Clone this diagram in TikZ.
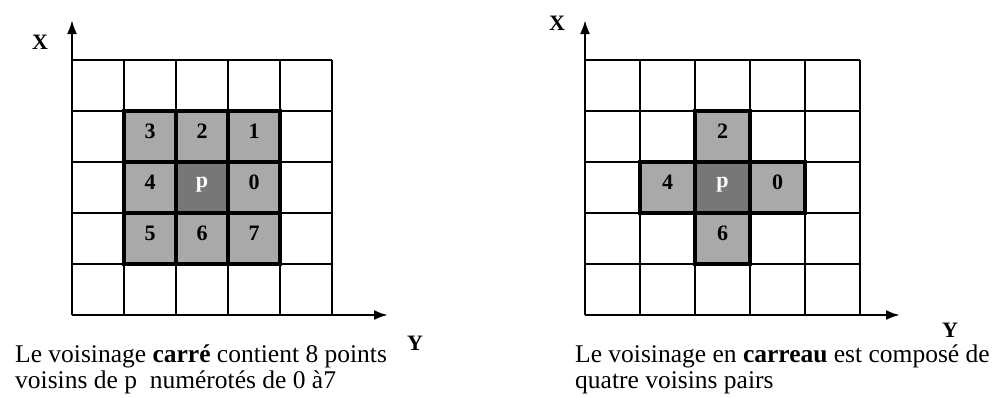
\documentclass[tikz,border=0pt]{standalone}
\usepackage{fontspec}
\setmainfont{Liberation Serif}
\usetikzlibrary{arrows.meta, positioning}
\definecolor{nbgray}{HTML}{A9A9A9}
\definecolor{pgray}{HTML}{777777}

\begin{document}
\begin{tikzpicture}[
    x=1pt, y=-1pt,
    gridline/.style={line width=1.4pt},
    axis/.style={line width=2.4pt, -{Latex[length=14pt, width=10pt]}},
    nb/.style={draw, line width=3.4pt, fill=nbgray, inner sep=0pt,
               minimum height=51pt, text depth=11pt,
               font=\fontsize{22}{22}\selectfont\bfseries},
    ctr/.style={nb, fill=pgray, text=white},
    alab/.style={font=\fontsize{22}{22}\selectfont\bfseries},
    captext/.style={anchor=base west, inner sep=0pt,
                font=\fontsize{25.5}{25.5}\selectfont}
  ]
  \useasboundingbox (0,0) rectangle (1004,397);

  % Left grid (square neighbourhood)
  \foreach \i in {0,...,5} {
    \draw[gridline] ({72+52*\i},60) -- ({72+52*\i},315);
    \draw[gridline] (72,{60+51*\i}) -- (332,{60+51*\i});
  }
  \node[nb, minimum width=52pt] (sq3) at (150,136.5) {3};
  \node[nb, minimum width=52pt] (sq2) at (202,136.5) {2};
  \node[nb, minimum width=52pt] (sq1) at (254,136.5) {1};
  \node[nb, minimum width=52pt] (sq4) at (150,187.5) {4};
  \node[ctr, minimum width=52pt] (sqp) at (202,187.5) {p};
  \node[nb, minimum width=52pt] (sq0) at (254,187.5) {0};
  \node[nb, minimum width=52pt] (sq5) at (150,238.5) {5};
  \node[nb, minimum width=52pt] (sq6) at (202,238.5) {6};
  \node[nb, minimum width=52pt] (sq7) at (254,238.5) {7};

  % Left axes
  \coordinate (Lo) at (72,315);
  \coordinate (Lxt) at (72,20);
  \coordinate (Lyt) at (388,315);
  \draw[axis] (Lo) -- (Lxt);
  \draw[axis] (Lo) -- (Lyt);
  \node[alab] (Lx) at (40,42) {X};
  \node[alab] (Ly) at (415,343) {Y};

  % Right grid (diamond neighbourhood)
  \foreach \i in {0,...,5} {
    \draw[gridline] ({585+55*\i},60) -- ({585+55*\i},315);
    \draw[gridline] (585,{60+51*\i}) -- (860,{60+51*\i});
  }
  \node[nb, minimum width=55pt] (dm2) at (722.5,136.5) {2};
  \node[nb, minimum width=55pt] (dm4) at (667.5,187.5) {4};
  \node[nb, minimum width=55pt] (dm0) at (777.5,187.5) {0};
  \node[nb, minimum width=55pt] (dm6) at (722.5,238.5) {6};
  \node[ctr, minimum width=55pt] (dmp) at (722.5,187.5) {p};

  % Right axes
  \coordinate (Ro) at (585,315);
  \coordinate (Rxt) at (585,20);
  \coordinate (Ryt) at (900,315);
  \draw[axis] (Ro) -- (Rxt);
  \draw[axis] (Ro) -- (Ryt);
  \node[alab] (Rx) at (557,23) {X};
  \node[alab] (Ry) at (950,330) {Y};

  % Captions
  \node[captext] (Lcap1) at (15,362) {Le voisinage \textbf{carré} contient 8 points};
  \node[captext] (Lcap2) at (15,388) {voisins de p\ \ numérotés de 0 à7};
  \node[captext] (Rcap1) at (575,362) {Le voisinage en \textbf{carreau} est composé de};
  \node[captext] (Rcap2) at (575,388) {quatre voisins pairs};
\end{tikzpicture}
\end{document}
